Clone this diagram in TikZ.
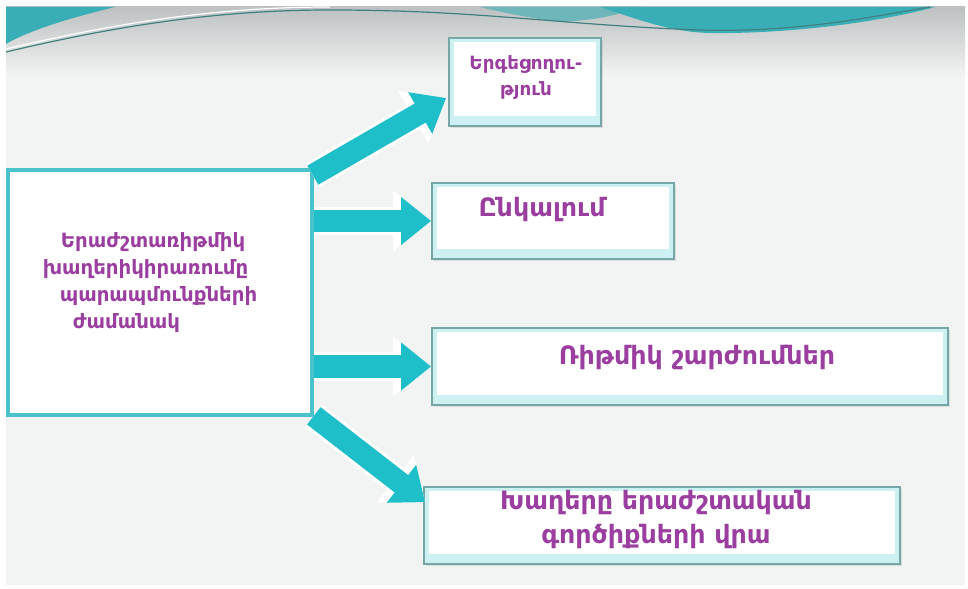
\documentclass[tikz,border=0pt]{standalone}
\usepackage{fontspec}
\setmainfont{DejaVu Sans}
\usetikzlibrary{arrows.meta,shadows}
\definecolor{slidegray}{HTML}{F2F3F3}
\definecolor{bandgray}{HTML}{BDC1C1}
\definecolor{waveteal}{HTML}{3AAEB6}
\definecolor{arrowteal}{HTML}{1FBFCA}
\definecolor{frameteal}{HTML}{4CC2CA}
\definecolor{edgegray}{HTML}{76A6A5}
\definecolor{glowcyan}{HTML}{CDF0F3}
\definecolor{labelpurple}{HTML}{9A3E9F}

\begin{document}
\begin{tikzpicture}[x=0.025cm, y=-0.025cm,
    mainbox/.style = {draw=frameteal, line width=0.09cm, fill=white,
      minimum width=7.6cm, minimum height=6.125cm,
      drop shadow={shadow xshift=0.04cm, shadow yshift=-0.06cm, opacity=0.2}},
    sidebox/.style = {draw=edgegray, line width=0.04cm, fill=glowcyan,
      drop shadow={shadow xshift=0.04cm, shadow yshift=-0.06cm, opacity=0.2},
      path picture={\fill[white] ([xshift=0.12cm,yshift=0.25cm]path picture bounding box.south west)
        rectangle ([xshift=-0.12cm,yshift=-0.1cm]path picture bounding box.north east);}},
    boxtext/.style = {text=labelpurple, font=\bfseries\fontsize{18}{23.5}\selectfont, align=center},
    flow/.style = {line width=0.55cm, draw=arrowteal, -{Triangle[length=0.75cm 0 0, width=1.15cm 0 0]},
      preaction={draw=white, line width=0.7cm, -{Triangle[length=0.95cm 0 0, width=1.45cm 0 0]}}}]
    \useasboundingbox (0,0) rectangle (968,589);

    \fill[slidegray] (6,7) rectangle (965,585);
    \shade[top color=bandgray, bottom color=slidegray] (6,7) rectangle (965,75);
    \fill[waveteal] (6,7) -- (115,7) .. controls (70,18) and (30,30) .. (6,44) -- cycle;
    \fill[waveteal!60!bandgray] (480,7) -- (640,7) .. controls (620,14) and (600,20) .. (560,22) .. controls (530,18) and (500,12) .. (480,7) -- cycle;
    \fill[waveteal] (600,7) -- (935,7) .. controls (880,22) and (790,34) .. (710,33) .. controls (670,32) and (640,20) .. (600,7) -- cycle;
    \draw[teal!50!gray, line width=0.03cm] (6,52) .. controls (120,25) and (220,10) .. (330,10)
      .. controls (480,10) and (560,25) .. (700,30) .. controls (800,33) and (880,15) .. (930,7);
    \draw[white, line width=0.03cm] (6,49) .. controls (120,22) and (220,7) .. (330,7);

    \node[mainbox] (play) at (160,292.5) {};
    \node[sidebox, minimum width=3.8cm, minimum height=2.2cm] (sing) at (525,82) {};
    \node[sidebox, minimum width=6.05cm, minimum height=1.9cm] (perc) at (553,221) {};
    \node[sidebox, minimum width=12.9cm, minimum height=1.925cm] (rhythm) at (690,366.5) {};
    \node[sidebox, minimum width=11.9cm, minimum height=1.925cm] (instr) at (662,525.5) {};

    \node[boxtext, align=left, font=\bfseries\fontsize{14}{19}\selectfont] (playtext)
      at ([shift={(-10,-10)}]play.center) {\hspace*{0.45cm}Երաժշտառիթմիկ\\
      խաղերիկիրառումը\\
      \hspace*{0.425cm}պարապմունքների\\
      \hspace*{0.75cm}ժամանակ};
    \node[boxtext, font=\bfseries\fontsize{13}{18.5}\selectfont] (singtext)
      at ([shift={(1,-4)}]sing.center) {Երգեցողու-\\թյուն};
    \node[boxtext] (perctext) at ([shift={(-11,-11)}]perc.center) {Ընկալում};
    \node[boxtext] (rhythmtext) at ([shift={(7,-9)}]rhythm.center) {Ռիթմիկ շարժումներ};
    \node[boxtext] (instrtext) at ([shift={(-6,-6)}]instr.center) {Խաղերը երաժշտական\\գործիքների վրա};

    \draw[flow] ([shift={(-1,7)}]play.north east) -- ([shift={(-2,16)}]sing.south west |- sing.west);
    \draw[flow] (play.east |- perc.west) -- (perc.west);
    \draw[flow] (play.east |- rhythm.west) -- (rhythm.west);
    \draw[flow] ([shift={(0,-1)}]play.south east) -- ([shift={(2,16)}]instr.north west);
\end{tikzpicture}
\end{document}
